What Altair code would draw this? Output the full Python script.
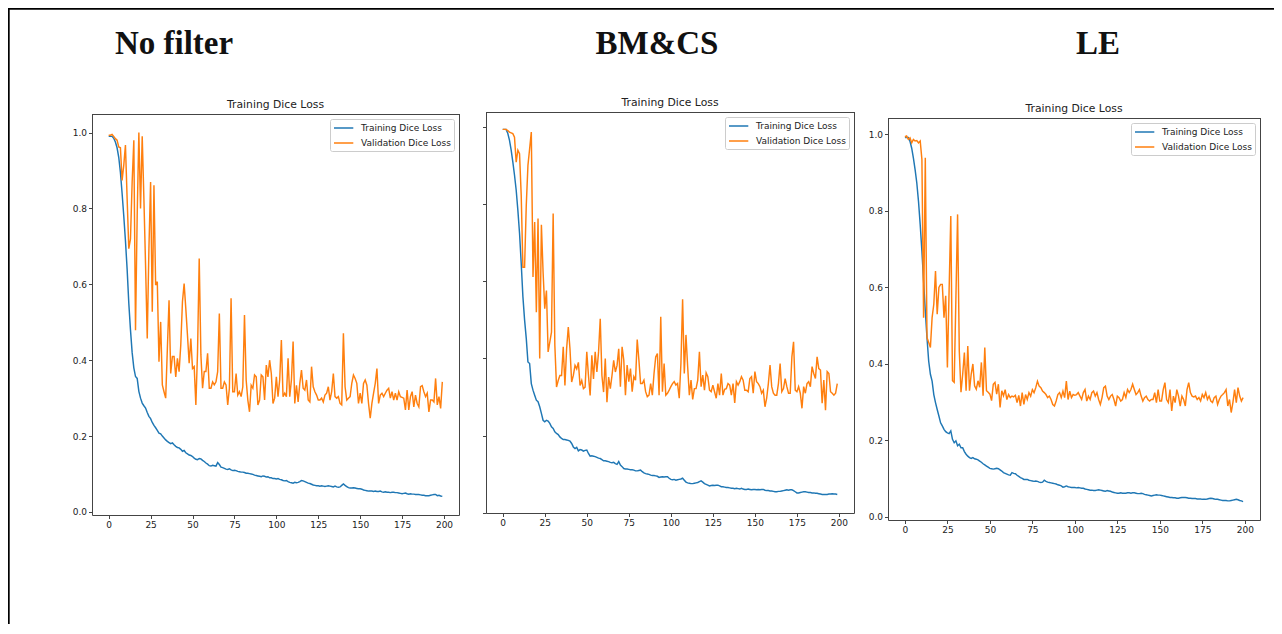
import altair as alt
import pandas as pd

PANELS = ["No filter", "BM&CS", "LE"]
PANEL_TITLE = "Training Dice Loss"
SERIES = ["Training Dice Loss", "Validation Dice Loss"]
COLORS = ["#1f77b4", "#ff7f0e"]
X_TICKS = [0, 25, 50, 75, 100, 125, 150, 175, 200]
Y_TICKS = [0.0, 0.2, 0.4, 0.6, 0.8, 1.0]

NOFILTER_TRAIN = [
    0.99, 0.99, 0.99, 0.985, 0.975, 0.96, 0.935, 0.895, 0.84, 0.78,
    0.715, 0.64, 0.55, 0.48, 0.42, 0.38, 0.357, 0.352, 0.318, 0.30,
    0.287, 0.28, 0.274, 0.262, 0.252, 0.246, 0.236, 0.228, 0.222, 0.215,
    0.208, 0.206, 0.2, 0.195, 0.19, 0.186, 0.183, 0.18, 0.182, 0.177,
    0.173, 0.17, 0.169, 0.165, 0.16, 0.162, 0.156, 0.153, 0.15, 0.149,
    0.146, 0.142, 0.139, 0.138, 0.141, 0.14, 0.136, 0.133, 0.129, 0.126,
    0.122, 0.121, 0.123, 0.122, 0.121, 0.13, 0.125, 0.118, 0.117, 0.115,
    0.113, 0.112, 0.114, 0.111, 0.109, 0.11, 0.109, 0.107, 0.106, 0.105,
    0.105, 0.104, 0.102, 0.102, 0.101, 0.1, 0.099, 0.097, 0.096, 0.095,
    0.094, 0.093, 0.095, 0.094, 0.092, 0.093, 0.09, 0.09, 0.088, 0.088,
    0.087, 0.088, 0.086, 0.085, 0.083, 0.082, 0.083, 0.08, 0.078, 0.077,
    0.076, 0.078, 0.077, 0.078, 0.08, 0.083, 0.082, 0.08, 0.078, 0.076,
    0.075, 0.073, 0.071, 0.07, 0.069, 0.069, 0.068, 0.069, 0.068, 0.067,
    0.068, 0.069, 0.068, 0.067, 0.066, 0.068, 0.066, 0.065, 0.066, 0.07,
    0.074, 0.07, 0.067, 0.064, 0.063, 0.063, 0.064, 0.063, 0.062, 0.061,
    0.061, 0.06, 0.058, 0.057, 0.056, 0.055, 0.055, 0.055, 0.054, 0.055,
    0.054, 0.054, 0.055, 0.053, 0.052, 0.053, 0.052, 0.052, 0.051, 0.052,
    0.052, 0.051, 0.051, 0.05, 0.049, 0.048, 0.049, 0.05, 0.048, 0.047,
    0.048, 0.047, 0.047, 0.046, 0.046, 0.046, 0.045, 0.044, 0.044, 0.043,
    0.043, 0.043, 0.044, 0.045, 0.046, 0.046, 0.043, 0.044, 0.042, 0.041,
]
NOFILTER_VAL = [
    0.993, 0.993, 0.995, 0.99, 0.984, 0.98, 0.962, 0.96, 0.874, 0.914,
    0.967, 0.826, 0.694, 0.72, 0.87, 0.98, 0.479, 0.78, 1.0, 0.80,
    0.99, 0.826, 0.65, 0.457, 0.694, 0.87, 0.528, 0.861, 0.598, 0.607,
    0.396, 0.501, 0.335, 0.317, 0.30, 0.43, 0.558, 0.365, 0.41, 0.41,
    0.356, 0.405, 0.37, 0.44, 0.554, 0.602, 0.536, 0.466, 0.392, 0.457,
    0.378, 0.383, 0.282, 0.422, 0.668, 0.414, 0.326, 0.37, 0.37, 0.418,
    0.326, 0.326, 0.343, 0.335, 0.343, 0.37, 0.523, 0.326, 0.326, 0.343,
    0.335, 0.282, 0.326, 0.563, 0.317, 0.317, 0.365, 0.308, 0.317, 0.304,
    0.33, 0.519, 0.348, 0.295, 0.264, 0.334, 0.326, 0.361, 0.356, 0.282,
    0.295, 0.361, 0.356, 0.295, 0.387, 0.356, 0.40, 0.365, 0.286, 0.30,
    0.356, 0.304, 0.348, 0.453, 0.304, 0.313, 0.304, 0.405, 0.304, 0.348,
    0.449, 0.286, 0.334, 0.29, 0.339, 0.374, 0.326, 0.321, 0.348, 0.295,
    0.29, 0.383, 0.33, 0.317, 0.308, 0.295, 0.295, 0.30, 0.29, 0.308,
    0.313, 0.33, 0.295, 0.317, 0.365, 0.304, 0.30, 0.304, 0.286, 0.282,
    0.471, 0.33, 0.295, 0.30, 0.304, 0.339, 0.361, 0.352, 0.339, 0.286,
    0.313, 0.286, 0.339, 0.348, 0.334, 0.286, 0.247, 0.286, 0.313, 0.339,
    0.378, 0.286, 0.308, 0.313, 0.304, 0.313, 0.321, 0.326, 0.30, 0.317,
    0.295, 0.313, 0.295, 0.317, 0.304, 0.302, 0.30, 0.269, 0.321, 0.269,
    0.304, 0.317, 0.277, 0.308, 0.286, 0.277, 0.33, 0.333, 0.317, 0.304,
    0.313, 0.264, 0.295, 0.295, 0.29, 0.352, 0.282, 0.304, 0.273, 0.343,
]
BMCS_TRAIN = [
    0.993, 0.993, 0.993, 0.983, 0.965, 0.94, 0.909, 0.875, 0.836, 0.784,
    0.724, 0.646, 0.56, 0.50, 0.452, 0.391, 0.387, 0.335, 0.318, 0.305,
    0.292, 0.288, 0.275, 0.258, 0.24, 0.236, 0.24, 0.238, 0.232, 0.223,
    0.219, 0.21, 0.206, 0.203, 0.197, 0.193, 0.19, 0.19, 0.189, 0.188,
    0.186, 0.18, 0.171, 0.167, 0.17, 0.161, 0.164, 0.163, 0.16, 0.162,
    0.163, 0.154, 0.147, 0.148, 0.147, 0.146, 0.144, 0.142, 0.141, 0.138,
    0.135, 0.135, 0.134, 0.133, 0.131, 0.13, 0.131, 0.128, 0.126, 0.133,
    0.124, 0.12, 0.115, 0.114, 0.114, 0.113, 0.112, 0.112, 0.111, 0.109,
    0.109, 0.11, 0.111, 0.107, 0.104, 0.102, 0.101, 0.1, 0.098, 0.097,
    0.097, 0.096, 0.095, 0.092, 0.093, 0.094, 0.093, 0.094, 0.094, 0.09,
    0.087, 0.086, 0.087, 0.085, 0.086, 0.087, 0.088, 0.09, 0.085, 0.08,
    0.078, 0.077, 0.076, 0.076, 0.077, 0.078, 0.079, 0.081, 0.083, 0.08,
    0.076, 0.074, 0.072, 0.07, 0.071, 0.072, 0.071, 0.072, 0.072, 0.07,
    0.068, 0.068, 0.067, 0.066, 0.066, 0.065, 0.064, 0.064, 0.063, 0.064,
    0.063, 0.062, 0.064, 0.062, 0.061, 0.061, 0.062, 0.061, 0.06, 0.061,
    0.061, 0.06, 0.061, 0.06, 0.061, 0.061, 0.059, 0.058, 0.058, 0.057,
    0.057, 0.056, 0.055, 0.055, 0.056, 0.056, 0.057, 0.058, 0.059, 0.06,
    0.059, 0.06, 0.06, 0.058, 0.055, 0.052, 0.052, 0.053, 0.054, 0.055,
    0.055, 0.054, 0.053, 0.053, 0.052, 0.052, 0.051, 0.051, 0.05, 0.049,
    0.048, 0.048, 0.048, 0.048, 0.049, 0.049, 0.05, 0.049, 0.049, 0.048,
]
BMCS_VAL = [
    0.993, 0.993, 0.993, 0.99, 0.986, 0.984, 0.982, 0.973, 0.908, 0.939,
    0.93, 0.822, 0.636, 0.636, 0.796, 0.90, 0.943, 0.986, 0.611, 0.753,
    0.52, 0.762, 0.40, 0.746, 0.624, 0.529, 0.576, 0.417, 0.442, 0.468,
    0.775, 0.434, 0.326, 0.343, 0.356, 0.356, 0.43, 0.33, 0.425, 0.481,
    0.425, 0.339, 0.356, 0.382, 0.373, 0.39, 0.33, 0.343, 0.322, 0.326,
    0.417, 0.356, 0.304, 0.408, 0.347, 0.417, 0.365, 0.417, 0.503, 0.356,
    0.313, 0.40, 0.287, 0.352, 0.322, 0.356, 0.395, 0.365, 0.382, 0.425,
    0.327, 0.43, 0.396, 0.305, 0.383, 0.34, 0.374, 0.314, 0.353, 0.344,
    0.449, 0.396, 0.335, 0.335, 0.344, 0.314, 0.301, 0.305, 0.335, 0.305,
    0.361, 0.404, 0.413, 0.305, 0.508, 0.314, 0.387, 0.305, 0.31, 0.318,
    0.327, 0.335, 0.34, 0.331, 0.335, 0.297, 0.387, 0.553, 0.361, 0.461,
    0.379, 0.305, 0.344, 0.294, 0.322, 0.322, 0.344, 0.417, 0.327, 0.357,
    0.318, 0.363, 0.353, 0.318, 0.314, 0.331, 0.314, 0.297, 0.335, 0.305,
    0.361, 0.305, 0.32, 0.322, 0.335, 0.331, 0.305, 0.335, 0.285, 0.34,
    0.331, 0.34, 0.353, 0.344, 0.318, 0.318, 0.314, 0.348, 0.353, 0.31,
    0.366, 0.34, 0.335, 0.327, 0.31, 0.318, 0.275, 0.297, 0.335, 0.383,
    0.327, 0.31, 0.305, 0.305, 0.335, 0.387, 0.314, 0.322, 0.348, 0.327,
    0.31, 0.31, 0.404, 0.443, 0.318, 0.314, 0.327, 0.31, 0.271, 0.327,
    0.31, 0.335, 0.34, 0.327, 0.379, 0.361, 0.348, 0.404, 0.374, 0.37,
    0.284, 0.344, 0.266, 0.366, 0.361, 0.314, 0.31, 0.305, 0.31, 0.335,
]
LE_TRAIN = [
    0.991, 0.991, 0.991, 0.981, 0.963, 0.937, 0.907, 0.872, 0.824, 0.763,
    0.694, 0.615, 0.537, 0.467, 0.406, 0.372, 0.354, 0.319, 0.298, 0.28,
    0.263, 0.245, 0.237, 0.228, 0.222, 0.219, 0.217, 0.224, 0.202, 0.193,
    0.198, 0.185, 0.189, 0.18, 0.18, 0.17, 0.163, 0.158, 0.154, 0.152,
    0.154, 0.151, 0.15, 0.148, 0.145, 0.142, 0.138, 0.135, 0.132, 0.129,
    0.126, 0.125, 0.124, 0.125, 0.126, 0.125, 0.122, 0.119, 0.115, 0.113,
    0.111, 0.109, 0.108, 0.115, 0.113, 0.112, 0.108, 0.105, 0.102, 0.1,
    0.097, 0.097, 0.097, 0.095, 0.094, 0.093, 0.092, 0.093, 0.092, 0.09,
    0.089, 0.09, 0.095, 0.092, 0.09, 0.089, 0.088, 0.087, 0.086, 0.085,
    0.083, 0.082, 0.08, 0.077, 0.078, 0.08, 0.078, 0.077, 0.076, 0.076,
    0.076, 0.075, 0.076, 0.075, 0.074, 0.074, 0.072, 0.071, 0.07, 0.069,
    0.069, 0.068, 0.068, 0.069, 0.07, 0.069, 0.068, 0.067, 0.066, 0.068,
    0.067, 0.066, 0.064, 0.063, 0.062, 0.061, 0.061, 0.062, 0.061, 0.061,
    0.061, 0.062, 0.062, 0.061, 0.062, 0.062, 0.061, 0.06, 0.06, 0.061,
    0.06, 0.058, 0.057, 0.056, 0.055, 0.054, 0.055, 0.056, 0.057, 0.056,
    0.056, 0.055, 0.054, 0.053, 0.052, 0.051, 0.05, 0.05, 0.049, 0.049,
    0.048, 0.048, 0.049, 0.05, 0.05, 0.05, 0.049, 0.048, 0.048, 0.047,
    0.047, 0.047, 0.046, 0.046, 0.046, 0.045, 0.045, 0.045, 0.046, 0.047,
    0.048, 0.047, 0.046, 0.045, 0.045, 0.044, 0.043, 0.042, 0.042, 0.042,
    0.041, 0.041, 0.042, 0.043, 0.044, 0.045, 0.044, 0.042, 0.041, 0.039,
]
LE_VAL = [
    0.993, 0.995, 0.986, 0.99, 0.977, 0.986, 0.982, 0.983, 0.977, 0.982,
    0.934, 0.52, 0.938, 0.468, 0.455, 0.442, 0.52, 0.555, 0.642, 0.529,
    0.599, 0.607, 0.607, 0.52, 0.577, 0.39, 0.59, 0.786, 0.355, 0.351,
    0.57, 0.79, 0.433, 0.325, 0.372, 0.429, 0.329, 0.446, 0.329, 0.372,
    0.399, 0.342, 0.333, 0.355, 0.338, 0.403, 0.316, 0.442, 0.329, 0.325,
    0.32, 0.303, 0.346, 0.351, 0.32, 0.346, 0.285, 0.329, 0.316,
    0.332, 0.306, 0.319, 0.311, 0.315, 0.313, 0.317, 0.298, 0.317, 0.289,
    0.324, 0.293, 0.319, 0.306, 0.324, 0.315, 0.332, 0.324, 0.337, 0.354,
    0.341, 0.337, 0.328, 0.324, 0.319, 0.311, 0.315, 0.306, 0.293, 0.289,
    0.302, 0.319, 0.324, 0.311, 0.328, 0.311, 0.354, 0.306, 0.328, 0.311,
    0.319, 0.317, 0.319, 0.324, 0.315, 0.306, 0.324, 0.332, 0.302, 0.315,
    0.306, 0.324, 0.328, 0.315, 0.324, 0.306, 0.293, 0.311, 0.337, 0.341,
    0.315, 0.306, 0.315, 0.319, 0.306, 0.289, 0.315, 0.311, 0.302, 0.306,
    0.324, 0.311, 0.332, 0.324, 0.332, 0.346, 0.332, 0.319, 0.324, 0.332,
    0.315, 0.302, 0.311, 0.315, 0.306, 0.302, 0.306, 0.306, 0.324, 0.298,
    0.332, 0.302, 0.302, 0.332, 0.35, 0.306, 0.298, 0.332, 0.276, 0.315,
    0.298, 0.332, 0.315, 0.289, 0.315, 0.306, 0.289, 0.332, 0.35, 0.324,
    0.315, 0.313, 0.315, 0.306, 0.311, 0.302, 0.319, 0.311, 0.324, 0.306,
    0.315, 0.302, 0.298, 0.311, 0.315, 0.293, 0.306, 0.315, 0.319, 0.324,
    0.332, 0.289, 0.306, 0.272, 0.298, 0.332, 0.298, 0.337, 0.315, 0.302,
    0.311,
]


def long_table(train, val):
    return pd.DataFrame({
        "epoch": list(range(len(train))) + list(range(len(val))),
        "loss": train + val,
        "series": [SERIES[0]] * len(train) + [SERIES[1]] * len(val),
    })


LW = 1.7           # page frame line thickness
FRAME = "#444444"  # axes frame colour
SEG_TOP = -104     # page top line, relative to the (aligned) view origins
HEAD_Y = -58       # baseline of the big panel labels
LEGEND_W = 124

SPECS = [
    dict(name=PANELS[0], train=NOFILTER_TRAIN, val=NOFILTER_VAL, w=367, h=401, o=2,
         ydom=[-0.008, 1.049], ylabels=True, seg=(-84, 367 + 13), head_x=82, left=True),
    dict(name=PANELS[1], train=BMCS_TRAIN, val=BMCS_VAL, w=368, h=401, o=0,
         ydom=[0.0, 1.038], ylabels=False, seg=(-14, 368 + 8), head_x=171, left=False),
    dict(name=PANELS[2], train=LE_TRAIN, val=LE_VAL, w=372, h=402, o=6,
         ydom=[-0.009, 1.042], ylabels=True, seg=(-26, 372 + 14), head_x=210, left=False),
]


def panel(s):
    w, h, o = s["w"], s["h"], s["o"]
    df = long_table(s["train"], s["val"])
    lab = pd.DataFrame({"name": [s["name"]], "title": [PANEL_TITLE]})
    lines = alt.Chart(df).mark_line(strokeWidth=1.45).encode(
        x=alt.X("epoch:Q",
                scale=alt.Scale(domain=[-9.95, 208.95], nice=False, zero=False),
                axis=alt.Axis(values=X_TICKS, title=None, labelFlush=False)),
        y=alt.Y("loss:Q",
                scale=alt.Scale(domain=s["ydom"], range=[o + h, o], nice=False, zero=False),
                axis=alt.Axis(values=Y_TICKS, format=".1f", title=None,
                              labels=s["ylabels"], minExtent=0)),
        color=alt.Color("series:N",
                        scale=alt.Scale(domain=SERIES, range=COLORS),
                        legend=alt.Legend(
                            title=None, orient="none", legendX=w - 5 - LEGEND_W,
                            legendY=o + 5,
                            symbolType="M-1,0H2.86", symbolSize=100,
                            symbolStrokeWidth=1.5, labelFont="DejaVu Sans",
                            labelFontSize=9, labelColor="#222", labelOffset=16,
                            padding=3, rowPadding=4, strokeColor="#cccccc",
                            fillColor="rgba(255,255,255,0.85)", cornerRadius=2,
                            labelLimit=300)),
    )
    header = alt.Chart(lab).mark_text(
        font="Liberation Serif", fontSize=33, fontWeight="bold",
        align="center", baseline="alphabetic", color="#111",
    ).encode(text="name:N", x=alt.value(s["head_x"]), y=alt.value(HEAD_Y))
    title = alt.Chart(lab).mark_text(
        font="DejaVu Sans", fontSize=10.8, align="center",
        baseline="alphabetic", color="#222",
    ).encode(text="title:N", x=alt.value(w / 2), y=alt.value(o - 5.8))
    top_spine = alt.Chart(lab).mark_rule(color=FRAME, strokeWidth=1).encode(
        x=alt.value(0), x2=alt.value(w + 0.5), y=alt.value(o + 0.5))
    right_spine = alt.Chart(lab).mark_rule(color=FRAME, strokeWidth=1).encode(
        x=alt.value(w + 0.5), y=alt.value(o), y2=alt.value(o + h + 0.5))
    page_top = alt.Chart(lab).mark_rect(color="black").encode(
        x=alt.value(s["seg"][0]), x2=alt.value(s["seg"][1]),
        y=alt.value(SEG_TOP), y2=alt.value(SEG_TOP + LW))
    layers = [lines, top_spine, right_spine, header, title, page_top]
    if s["left"]:
        layers.append(alt.Chart(lab).mark_rect(color="black").encode(
            x=alt.value(s["seg"][0]), x2=alt.value(s["seg"][0] + LW),
            y=alt.value(SEG_TOP), y2=alt.value(512)))
    return alt.layer(*layers).properties(width=w, height=o + h)


chart = alt.hconcat(
    *[panel(s) for s in SPECS], spacing=0, padding=0, background="white"
).resolve_scale(color="independent").resolve_legend(color="independent").configure_view(
    strokeWidth=0
).configure_axis(
    grid=False, domain=True, domainColor=FRAME, domainWidth=1,
    tickColor=FRAME, tickWidth=1, tickSize=3.5,
    labelFont="DejaVu Sans", labelFontSize=9, labelColor="#222", labelPadding=2,
)

chart.save("out.html", embed_options={"renderer": "svg", "actions": False})
